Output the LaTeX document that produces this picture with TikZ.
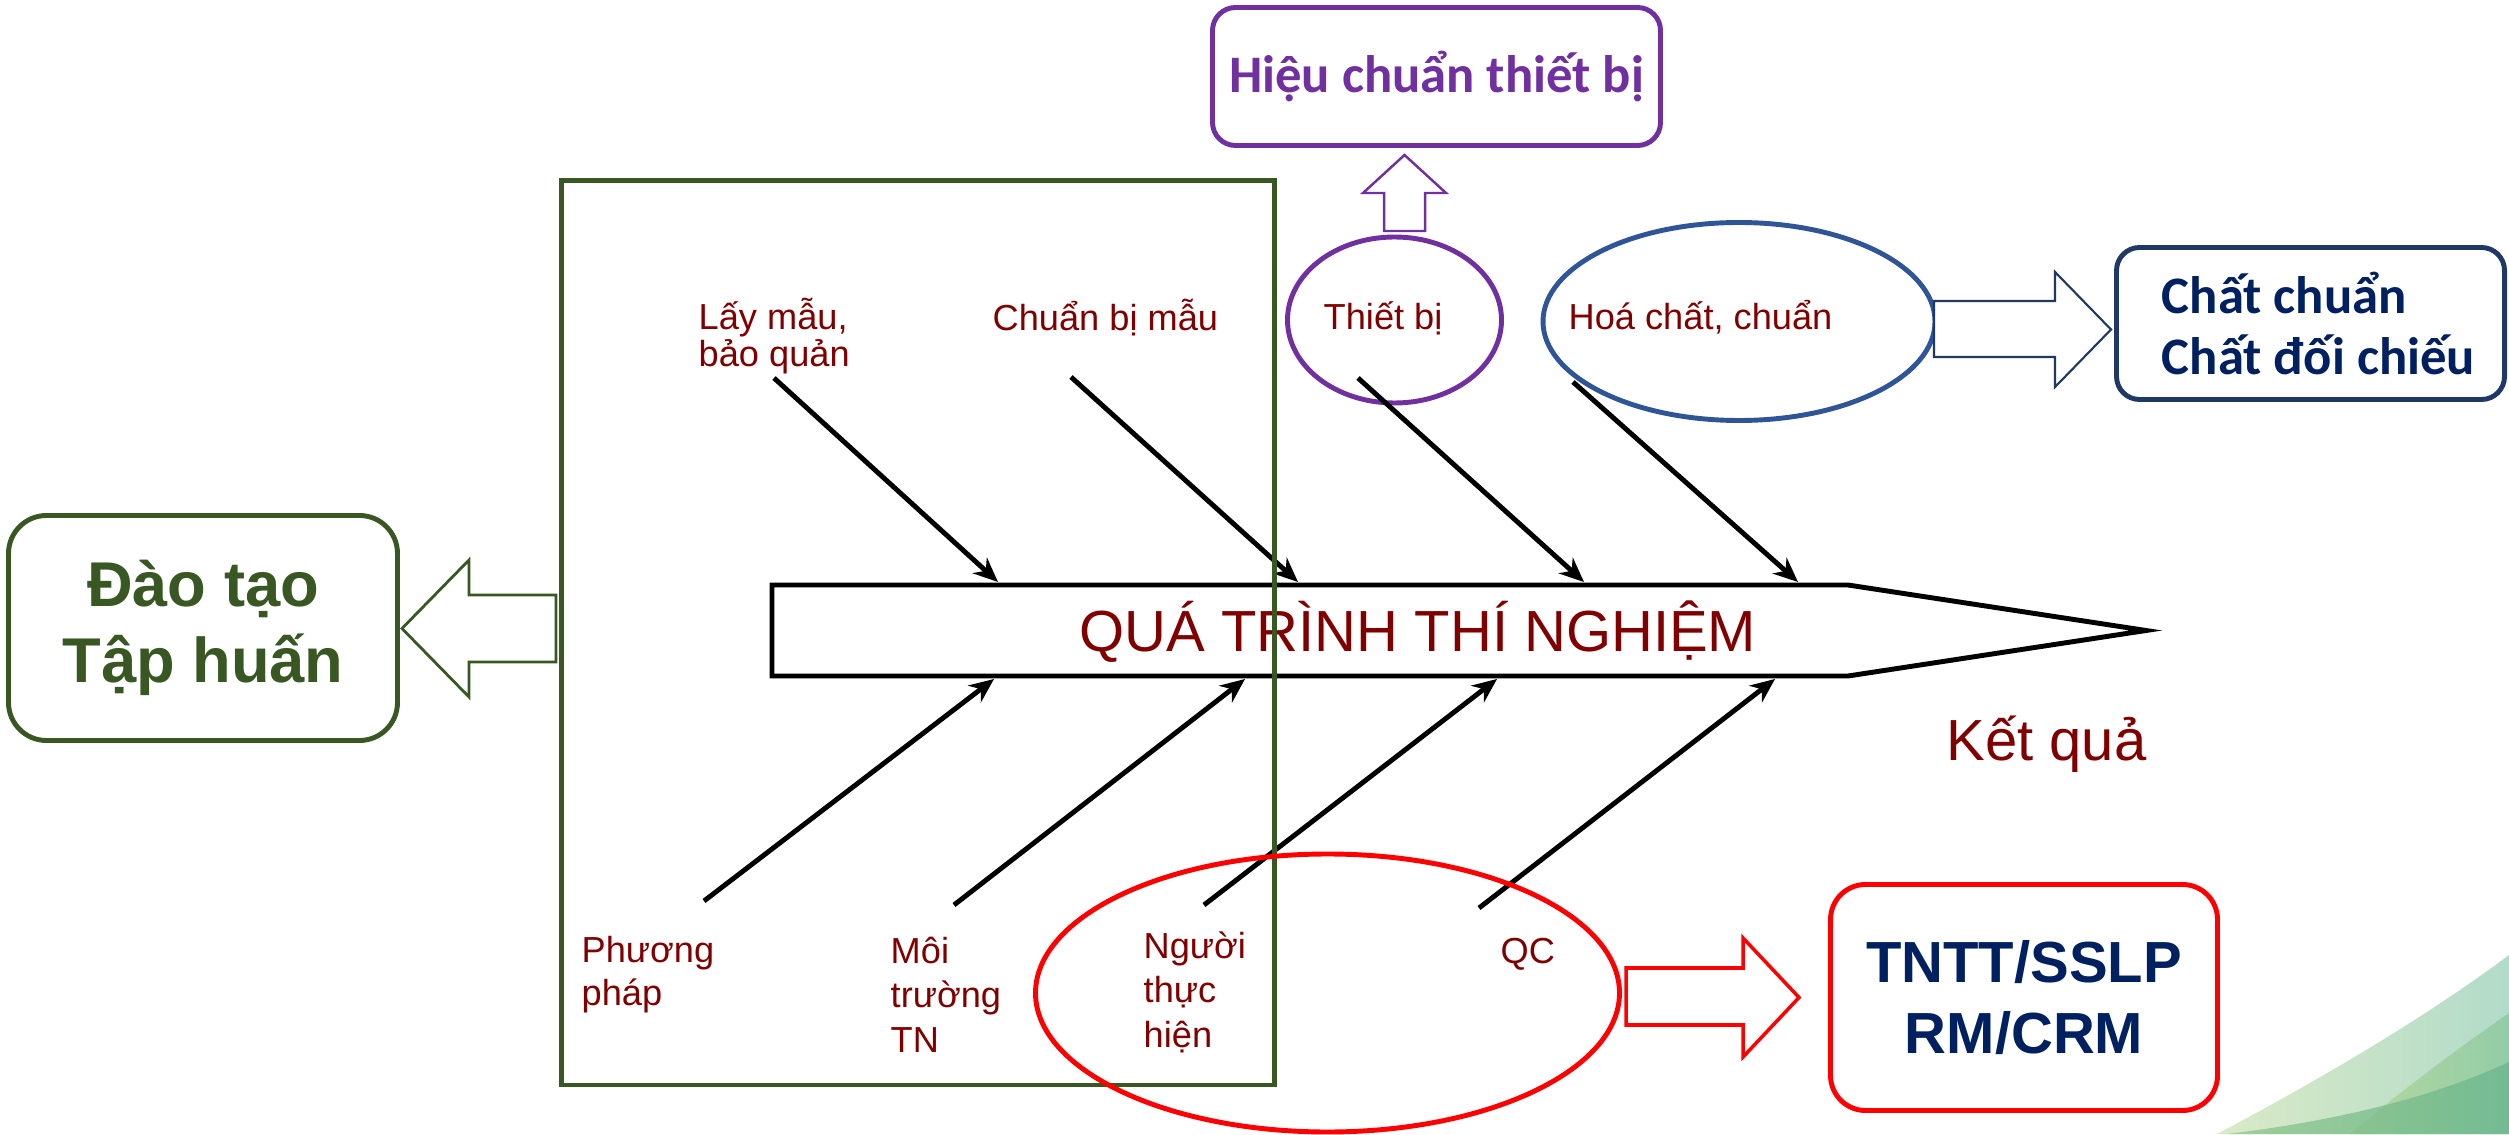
\documentclass[tikz,border=0pt]{standalone}
\usepackage{fontspec}
\setmainfont{Liberation Sans}
\newfontfamily\calibrifont{Carlito}
\usetikzlibrary{arrows.meta,shapes.geometric}

\definecolor{causered}{RGB}{128,0,0}
\definecolor{traingreen}{RGB}{56,87,35}
\definecolor{calibpurple}{RGB}{112,48,160}
\definecolor{chemblue}{RGB}{47,85,151}
\definecolor{refnavy}{RGB}{0,32,96}
\definecolor{boxnavy}{RGB}{31,56,100}
\definecolor{swishA}{RGB}{218,234,199}
\definecolor{swishB}{RGB}{178,219,201}
\definecolor{swishC}{RGB}{176,214,146}
\definecolor{swishD}{RGB}{140,201,160}
\definecolor{swishE}{RGB}{140,197,137}
\definecolor{swishF}{RGB}{105,181,142}

\tikzset{
  cause/.style={text=causered, font=\fontsize{10.3}{12.6}\selectfont,
    align=left, inner sep=0pt, anchor=base west},
  bone/.style={line width=1.4pt, -{Stealth[length=7pt,width=6pt]}},
  fatarrow/.style={fill=white, line width=0.7pt},
  ring/.style={ellipse, line width=1.4pt, inner sep=0pt},
  goalbox/.style={line width=1.4pt, align=center, inner sep=0pt}
}

\begin{document}
\begin{tikzpicture}
  \useasboundingbox (0,0) rectangle (25.09,11.34);

  % green swoosh in the corner
  \shade[left color=swishA, right color=swishB]
    (22.17,0) .. controls (23.3,0.6) and (24.3,1.2) .. (25.09,1.79) -- (25.09,0) -- cycle;
  \shade[left color=swishC, right color=swishD, opacity=0.8]
    (23.50,0) .. controls (24.0,0.42) and (24.5,0.8) .. (25.09,1.21) -- (25.09,0) -- cycle;
  \shade[left color=swishE, right color=swishF, opacity=0.75]
    (22.27,0) .. controls (23.5,0.15) and (24.4,0.4) .. (25.09,0.72) -- (25.09,0) -- cycle;

  % rings round the causes
  \node (devring) [ring, draw=calibpurple, minimum width=2.14cm, minimum height=1.66cm] at (13.945,8.14) {};
  \node (chemring) [ring, draw=chemblue, minimum width=3.92cm, minimum height=1.98cm] at (17.39,8.125) {};

  % the spine
  \draw[line width=1.4pt] (7.72,5.49) -- (18.48,5.49) -- (21.46,5.035) -- (18.48,4.58) -- (7.72,4.58) -- cycle;
  \node (process) [text=causered, font=\fontsize{16.5}{20}\selectfont, anchor=base] at (14.18,4.82) {QUÁ TRÌNH THÍ NGHIỆM};
  \node (result) [text=causered, font=\fontsize{16.5}{20}\selectfont, anchor=base west] at (19.34,3.74) {Kết quả};

  % bones above the spine
  \foreach \i/\sx/\sy/\ex in {1/7.74/7.56/9.98, 2/10.71/7.57/12.98, 3/13.58/7.56/15.84, 4/15.73/7.52/17.98} {
    \coordinate (up\i) at (\sx,\sy);
    \coordinate (upend\i) at (\ex,5.52);
    \draw[bone] (up\i) -- (upend\i);
  }

  % bones below the spine
  \foreach \i/\sx/\sy/\ex in {1/7.04/2.33/9.94, 2/9.54/2.29/12.45, 3/12.04/2.29/14.97, 4/14.79/2.26/17.75} {
    \coordinate (low\i) at (\sx,\sy);
    \coordinate (lowend\i) at (\ex,4.55);
    \draw[bone] (low\i) -- (lowend\i);
  }

  % causes (base is the last line)
  \node (sampling) [cause, font=\fontsize{10.3}{10.8}\selectfont] at (6.98,7.67) {Lấy mẫu,\\bảo quản};
  \node (prep) [cause] at (9.92,8.03) {Chuẩn bị mẫu};
  \node (device) [cause] at (13.23,8.04) {Thiết bị};
  \node (chem) [cause] at (15.68,8.04) {Hoá chất, chuẩn};
  \node (method) [cause, font=\fontsize{10.3}{12.2}\selectfont] at (5.81,1.29) {Phương\\pháp};
  \node (environ) [cause] at (8.90,0.82) {Môi\\trường\\TN};
  \node (staff) [cause] at (11.43,0.87) {Người\\thực\\hiện};
  \node (qc) [cause] at (15.00,1.71) {QC};

  % frame round the people side
  \draw[traingreen, line width=1.4pt] (5.615,9.535) rectangle (12.745,0.49);
  \node (staffring) [ring, draw=red, minimum width=5.84cm, minimum height=2.78cm] at (13.275,1.41) {};

  % where each group leads
  \node (training) [goalbox, draw=traingreen, rounded corners=0.38cm, minimum width=3.89cm, minimum height=2.25cm,
    text=traingreen, font=\bfseries\fontsize{18}{21.6}\selectfont] at (2.03,5.06) {Đào tạo\\Tập huấn};
  \node (calib) [goalbox, draw=calibpurple, rounded corners=0.23cm, minimum width=4.48cm, minimum height=1.38cm,
    text=calibpurple, font=\calibrifont\bfseries\fontsize{15}{18}\selectfont] at (14.365,10.575) {Hiệu chuẩn thiết bị};
  \node (refmat) [goalbox, align=left, draw=boxnavy, rounded corners=0.23cm, minimum width=3.88cm, minimum height=1.52cm,
    text=refnavy, font=\calibrifont\bfseries\fontsize{15}{17.6}\selectfont] at (23.105,8.105) {\hspace*{0.16cm}Chất chuẩn\\\hspace*{0.16cm}Chất đối chiếu};
  \node (pt) [goalbox, draw=red, rounded corners=0.35cm, minimum width=3.87cm, minimum height=2.26cm,
    text=refnavy, font=\bfseries\fontsize{16.5}{20.2}\selectfont] at (20.24,1.365) {TNTT/SSLP\\RM/CRM};

  % fat arrows
  \draw[fatarrow, draw=traingreen, line width=0.8pt] (5.56,5.39) -- (4.69,5.39) -- (4.69,5.74) -- (4.02,5.055)
    -- (4.69,4.37) -- (4.69,4.72) -- (5.56,4.72) -- cycle;
  \draw[fatarrow, draw=calibpurple] (13.84,9.03) -- (13.84,9.41) -- (13.63,9.41) -- (14.045,9.79)
    -- (14.46,9.41) -- (14.25,9.41) -- (14.25,9.03) -- cycle;
  \draw[fatarrow, draw=boxnavy, line width=0.6pt] (19.34,8.33) -- (20.55,8.33) -- (20.55,8.62) -- (21.11,8.045)
    -- (20.55,7.47) -- (20.55,7.77) -- (19.34,7.77) -- cycle;
  \draw[fatarrow, draw=red, line width=1pt] (16.26,1.66) -- (17.43,1.66) -- (17.43,1.96) -- (17.99,1.365)
    -- (17.43,0.77) -- (17.43,1.09) -- (16.26,1.09) -- cycle;
\end{tikzpicture}
\end{document}
